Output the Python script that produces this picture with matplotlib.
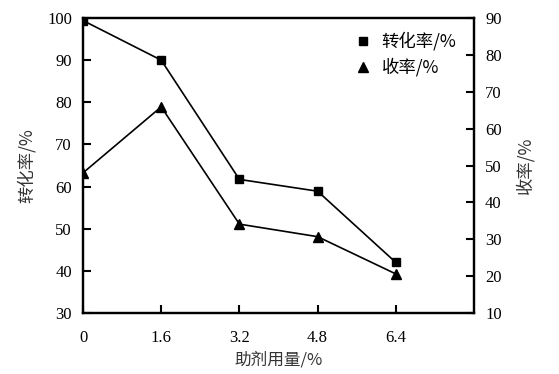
import matplotlib
matplotlib.use("Agg")
import matplotlib.pyplot as plt

plt.rcParams['font.family'] = ['Liberation Serif', 'Noto Sans CJK SC']
plt.rcParams['mathtext.fontset'] = 'stix'

dosage = [0, 1.6, 3.2, 4.8, 6.4]
conversion = [99.4, 90.0, 61.7, 58.9, 42.0]
yield_ = [48.0, 65.9, 34.1, 30.7, 20.6]
xticks = [0, 1.6, 3.2, 4.8, 6.4]
xticklabels = ['0', '1.6', '3.2', '4.8', '6.4']

fig = plt.figure(figsize=(5.59, 3.74), dpi=100)
ax = fig.add_axes([83/559, 1-313/374, (474-83)/559, (313-18)/374])
ax2 = ax.twinx()

l1, = ax.plot(dosage, conversion, color='black', lw=1.2, marker='s', ms=6, label='转化率/%')
l2, = ax2.plot(dosage, yield_, color='black', lw=1.2, marker='^', ms=7, label='收率/%')

ax.set_xlim(0, 8)
ax.set_ylim(30, 100)
ax2.set_ylim(10, 90)
ax.set_xticks(xticks)
ax.set_xticklabels(xticklabels)
ax.set_yticks(range(30, 101, 10))
ax2.set_yticks(range(10, 91, 10))

fs = 12
for a in (ax, ax2):
    for s in a.spines.values():
        s.set_linewidth(1.6)
    a.tick_params(direction='in', length=6, width=1.5, labelsize=fs, pad=8)
ax.tick_params(axis='x', pad=12)
ax.tick_params(axis='y', left=True, right=False)
ax2.tick_params(axis='y', right=True, left=False)

cjk = ['Noto Sans CJK SC', 'Liberation Serif']
ax.set_xlabel('助剂用量/%', fontsize=12, family=cjk, color='#333333', labelpad=4)
ax.set_ylabel('转化率/%', fontsize=12.5, family=cjk, color='#333333', labelpad=8)
ax2.set_ylabel('收率/%', fontsize=12.5, family=cjk, color='#333333', labelpad=10)

leg = ax.legend([l1, l2], ['转化率/%', '收率/%'], loc='upper right',
                bbox_to_anchor=(0.995, 1.005), frameon=False, handlelength=1.0,
                handletextpad=0.6, labelspacing=0.4,
                prop={'family': cjk, 'size': 12.5})
for h in leg.legend_handles:
    h.set_linestyle('none')

fig.savefig('out.png', dpi=100)
